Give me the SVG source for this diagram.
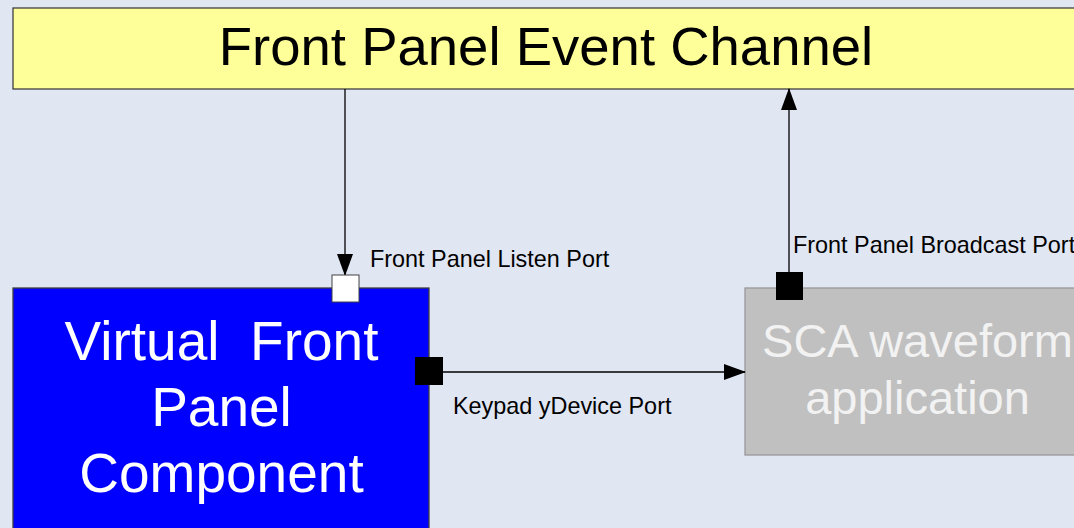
<svg xmlns="http://www.w3.org/2000/svg" width="1074" height="528" viewBox="0 0 1074 528">
<defs>
<style>
.lbl{font-family:"Liberation Sans",Arial,sans-serif;font-size:23.4px;fill:#000}
.big{font-family:"Liberation Sans",Arial,sans-serif}
.conn{stroke:#000;stroke-width:1.3;fill:none}
</style>
<marker id="arr" markerWidth="22" markerHeight="16" refX="21" refY="8" orient="auto" markerUnits="userSpaceOnUse">
<path d="M0,0 L22,8 L0,16 Z" fill="#000"/>
</marker>
</defs>
<rect x="0" y="0" width="1074" height="528" fill="#E0E6F2"/>
<g id="event-channel">
<rect x="13" y="8" width="1080" height="81" fill="#FFFF99" stroke="#404040" stroke-width="1.3"/>
<text class="big" x="546" y="65" font-size="54.5" text-anchor="middle" fill="#000">Front Panel Event Channel</text>
</g>
<g id="virtual-front-panel">
<rect x="13" y="288" width="416" height="260" fill="#0000FF" stroke="#404040" stroke-width="1.3"/>
<text class="big" font-size="55" fill="#fff" text-anchor="middle" xml:space="preserve"><tspan x="221.5" y="360">Virtual  Front</tspan><tspan x="221.5" y="426">Panel</tspan><tspan x="221.5" y="492">Component</tspan></text>
</g>
<g id="sca-waveform">
<rect x="745" y="288" width="360" height="167" fill="#C0C0C0" stroke="#999" stroke-width="1.3"/>
<text class="big" font-size="47" fill="#F2F2F2" text-anchor="middle"><tspan x="917.5" y="357">SCA waveform</tspan><tspan x="917.5" y="414">application</tspan></text>
</g>
<g id="connectors">
<line class="conn" x1="345" y1="89" x2="345" y2="275" marker-end="url(#arr)"/>
<line class="conn" x1="443" y1="372" x2="745" y2="372" marker-end="url(#arr)"/>
<line class="conn" x1="789" y1="272" x2="789" y2="89" marker-end="url(#arr)"/>
</g>
<g id="ports">
<rect id="listen-port" x="332" y="275" width="27" height="27" fill="#fff" stroke="#404040" stroke-width="1"/>
<rect id="keypad-port" x="415" y="357" width="28" height="28" fill="#000"/>
<rect id="broadcast-port" x="776" y="272" width="27" height="28" fill="#000"/>
</g>
<text class="lbl" x="370" y="267">Front Panel Listen Port</text>
<text class="lbl" x="793" y="253">Front Panel Broadcast Port</text>
<text class="lbl" x="453" y="414">Keypad yDevice Port</text>
</svg>
